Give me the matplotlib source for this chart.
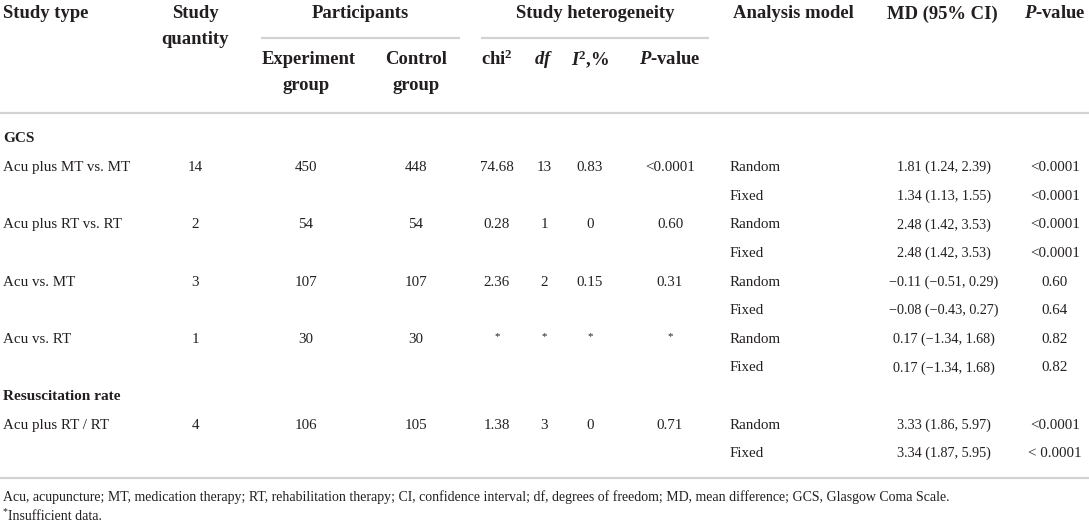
import matplotlib
matplotlib.use("Agg")
import matplotlib.pyplot as plt

# ==========================================
# DATA
# ==========================================
group_names = ["GCS", "Resuscitation rate"]
group_sizes = [4, 1]

study_types = ["Acu plus MT vs. MT", "Acu plus RT vs. RT", "Acu vs. MT",
               "Acu vs. RT", "Acu plus RT / RT"]
study_quantity = ["14", "2", "3", "1", "4"]
experiment_n = ["450", "54", "107", "30", "106"]
control_n = ["448", "54", "107", "30", "105"]
chi2_vals = ["74.68", "0.28", "2.36", "*", "1.38"]
df_vals = ["13", "1", "2", "*", "3"]
i2_vals = ["0.83", "0", "0.15", "*", "0"]
het_p_vals = ["<0.0001", "0.60", "0.31", "*", "0.71"]

models = ["Random", "Fixed"]
md_random = ["1.81 (1.24, 2.39)", "2.48 (1.42, 3.53)", "\u22120.11 (\u22120.51, 0.29)",
             "0.17 (\u22121.34, 1.68)", "3.33 (1.86, 5.97)"]
md_fixed = ["1.34 (1.13, 1.55)", "2.48 (1.42, 3.53)", "\u22120.08 (\u22120.43, 0.27)",
            "0.17 (\u22121.34, 1.68)", "3.34 (1.87, 5.95)"]
p_random = ["<0.0001", "<0.0001", "0.60", "0.82", "<0.0001"]
p_fixed = ["<0.0001", "<0.0001", "0.64", "0.82", "< 0.0001"]

footnote = ("Acu, acupuncture; MT, medication therapy; RT, rehabilitation therapy; "
            "CI, confidence interval; df, degrees of freedom; MD, mean difference; "
            "GCS, Glasgow Coma Scale.")
footnote2 = "Insufficient data."

# ==========================================
# STYLE / LAYOUT (pixel coordinates)
# ==========================================
W, H = 1089, 524
FONT = "Liberation Serif"
TXT = "#231f20"
RULE = "#d2d2d2"
BODY = 10.8
MDSIZE = 10.2
HEAD = 13.4
SECT = 11.0
FOOT = 10.0
FOOT_WIDTH = 950          # px the first footnote line spans

plt.rcParams["mathtext.fontset"] = "custom"
plt.rcParams["mathtext.rm"] = FONT
plt.rcParams["mathtext.it"] = FONT + ":italic"
plt.rcParams["mathtext.bf"] = FONT + ":bold"
plt.rcParams["mathtext.bfit"] = FONT + ":bold:italic"

X_TYPE = 3
X_QTY = 195
X_EXP = 306
X_CTRL = 416
X_CHI = 497
X_DF = 544
X_I2 = 590
X_HP = 670
X_MODEL = 730
X_MODEL_HEAD = 793
X_MD = 944
X_P = 1055

Y_H1 = 14
Y_H2 = 40
Y_H3 = 59
Y_H4 = 86
Y_SUBRULE = 38
Y_HEADRULE = 113
Y_FIRST = 139
ROW_PITCH = 28.6
Y_BOTRULE = 478
Y_FOOT1 = 497
Y_FOOT2 = 516

fig = plt.figure(figsize=(W / 100, H / 100), dpi=100)
ax = fig.add_axes([0, 0, 1, 1])
ax.set_xlim(0, W)
ax.set_ylim(H, 0)
ax.axis("off")


def put(x, y, s, ha="center", size=BODY, weight="normal", **kw):
    return ax.text(x, y, s, ha=ha, va="center", fontsize=size, fontweight=weight,
                   family=FONT, color=TXT, **kw)


def rule(x0, x1, y):
    ax.plot([x0, x1], [y, y], color=RULE, lw=1.6, solid_capstyle="butt")


# header
put(X_TYPE, Y_H1, "Study type", ha="left", size=HEAD, weight="bold")
put(X_QTY, Y_H1, "Study", size=HEAD, weight="bold")
put(X_QTY, Y_H2, "quantity", size=HEAD, weight="bold")
put(360, Y_H1, "Participants", size=HEAD, weight="bold")
put(X_EXP + 3, Y_H3, "Experiment", size=HEAD, weight="bold")
put(X_EXP, Y_H4, "group", size=HEAD, weight="bold")
put(X_CTRL, Y_H3, "Control", size=HEAD, weight="bold")
put(X_CTRL, Y_H4, "group", size=HEAD, weight="bold")
put(595, Y_H1, "Study heterogeneity", size=HEAD, weight="bold")
put(X_CHI, Y_H3, r"chi$^{\mathbf{2}}$", size=HEAD, weight="bold")
put(X_DF, Y_H3, r"$\mathbfit{df}$", size=HEAD, weight="bold")
put(X_I2, Y_H3, r"$\mathbfit{I}^{\mathbf{2}}$,%", size=HEAD, weight="bold")
put(X_HP, Y_H3, r"$\mathbfit{P}$-value", size=HEAD, weight="bold")
put(X_MODEL_HEAD, Y_H1, "Analysis model", size=HEAD, weight="bold")
put(X_MD - 2, Y_H1, "MD (95% CI)", size=HEAD, weight="bold")
put(X_P, Y_H1, r"$\mathbfit{P}$-value", size=HEAD, weight="bold")

rule(261, 460, Y_SUBRULE)
rule(481, 709, Y_SUBRULE)
rule(0, W, Y_HEADRULE)

# body
y = Y_FIRST
row = 0
for gname, gsize in zip(group_names, group_sizes):
    put(X_TYPE, y, gname, ha="left", size=SECT, weight="bold")
    y += ROW_PITCH
    for _ in range(gsize):
        put(X_TYPE, y, study_types[row], ha="left")
        put(X_QTY, y, study_quantity[row])
        put(X_EXP, y, experiment_n[row])
        put(X_CTRL, y, control_n[row])
        for xc, vals in [(X_CHI, chi2_vals), (X_DF, df_vals),
                         (X_I2, i2_vals), (X_HP, het_p_vals)]:
            v = vals[row]
            if v == "*":
                put(xc, y - 3, v, size=BODY - 3)
            else:
                put(xc, y, v)
        put(X_MODEL, y, models[0], ha="left")
        put(X_MD, y, md_random[row], size=MDSIZE)
        put(X_P, y, p_random[row])
        y += ROW_PITCH
        put(X_MODEL, y, models[1], ha="left")
        put(X_MD, y, md_fixed[row], size=MDSIZE)
        put(X_P, y, p_fixed[row])
        y += ROW_PITCH
        row += 1

rule(0, W, Y_BOTRULE)

# footnotes: size the long line so it spans the same width as the reference
t1 = put(X_TYPE, Y_FOOT1, footnote, ha="left", size=FOOT)
renderer = fig.canvas.get_renderer()
w = t1.get_window_extent(renderer=renderer).width
foot_size = FOOT * FOOT_WIDTH / w
t1.set_fontsize(foot_size)
put(X_TYPE, Y_FOOT2 - 4, "*", ha="left", size=foot_size - 3)
put(X_TYPE + 5, Y_FOOT2, footnote2, ha="left", size=foot_size)

fig.savefig("out.png", dpi=100)
